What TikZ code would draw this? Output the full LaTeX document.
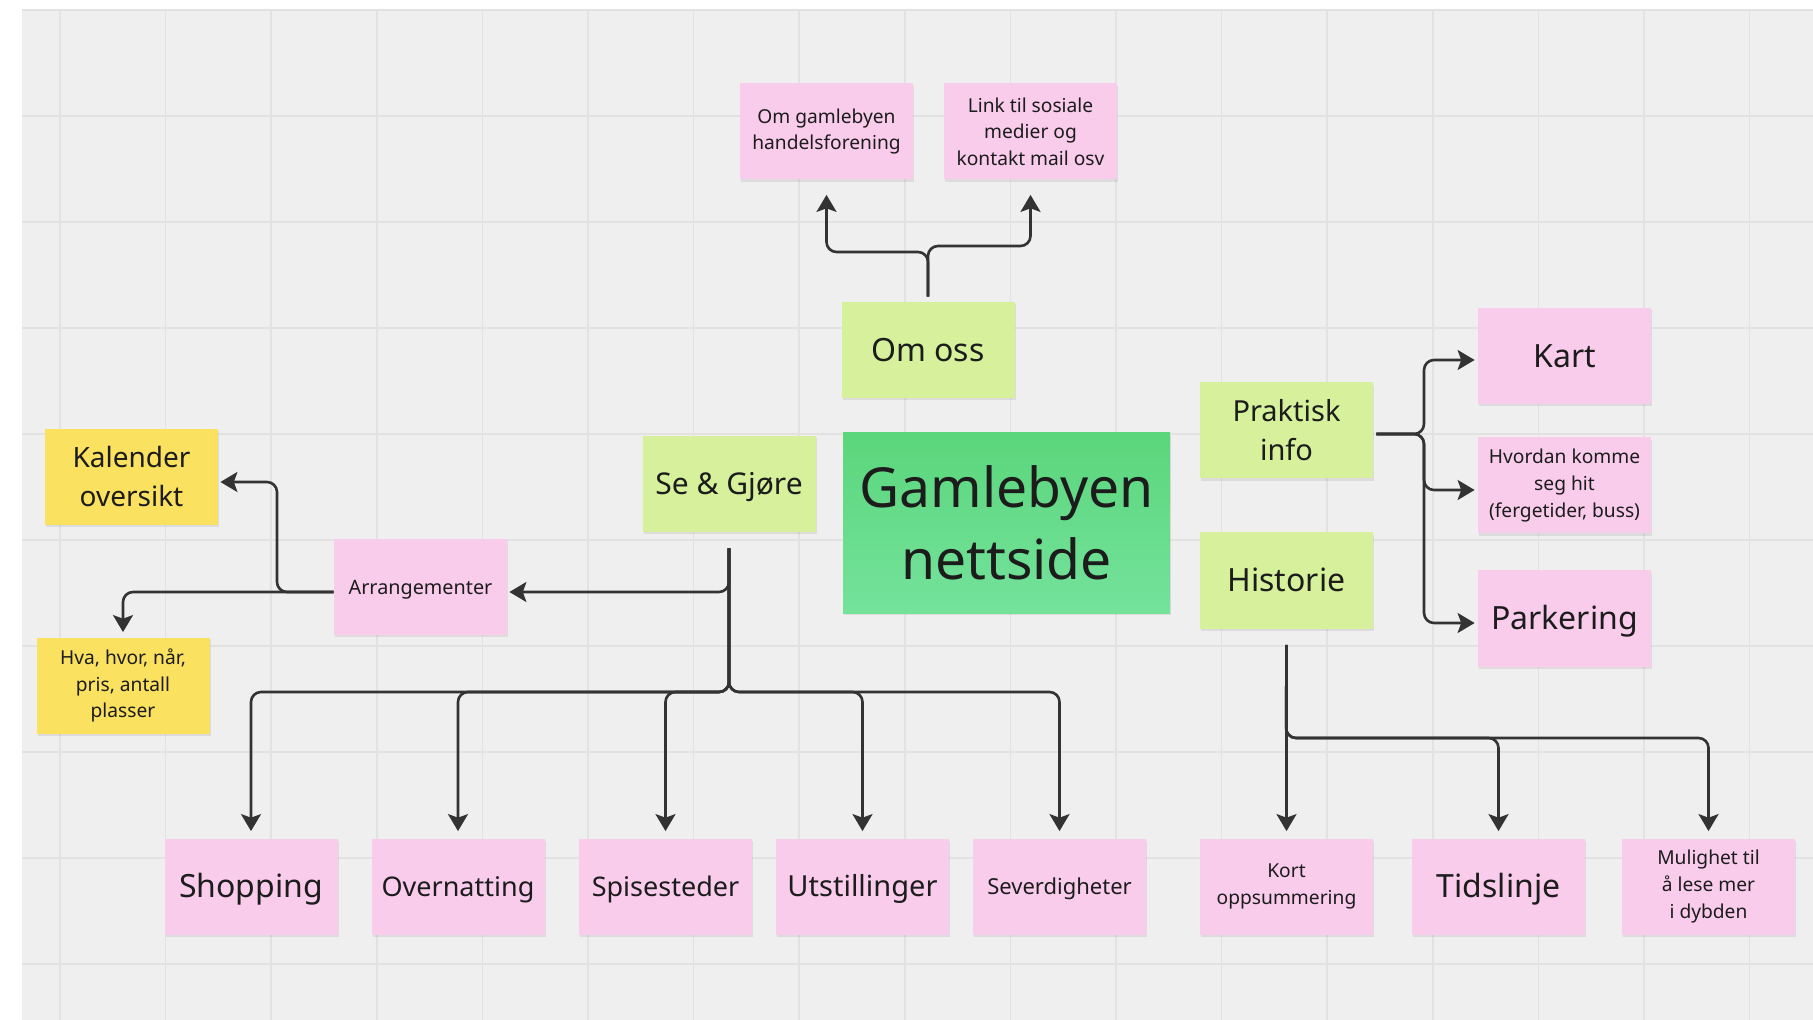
\documentclass[tikz,border=0pt]{standalone}
\usepackage{fontspec}
\setmainfont{Noto Sans}
\usetikzlibrary{arrows.meta,shadows}
\definecolor{bg}{HTML}{EFEFEF}
\definecolor{gridc}{HTML}{E2E2E2}
\definecolor{pinkn}{HTML}{F9CCEC}
\definecolor{limen}{HTML}{D6F09C}
\definecolor{yelln}{HTML}{FBE160}
\definecolor{greenA}{HTML}{5BD67C}
\definecolor{greenB}{HTML}{74E29B}
\definecolor{linec}{HTML}{333333}
\definecolor{textc}{HTML}{1C1C1C}
\begin{document}
\begin{tikzpicture}[x=0.5pt,y=-0.5pt,
  note/.style={minimum width=86.5pt, minimum height=48pt, inner sep=0pt, align=center, text=textc,
    general shadow={fill=black, opacity=0.08, shadow yshift=-1.2pt, shadow xshift=0.5pt}},
  pinknote/.style={note, fill=pinkn},
  limenote/.style={note, fill=limen},
  yellnote/.style={note, fill=yelln},
  sm/.style={font=\fontsize{9.6}{13.3}\selectfont},
  big/.style={font=\fontsize{16}{20}\selectfont, text height=11.4pt, text depth=0pt},
  oneline/.style={text height=#1, text depth=0pt},
  gridline/.style={draw=gridc, line width=0.8pt},
  arr/.style={draw=linec, line width=1.3pt, rounded corners=5pt, -{Stealth[length=8.5pt,width=10pt,inset=1.8pt]}}
]
\useasboundingbox (0,0) rectangle (1813,1020);
\fill[white] (0,0) rectangle (1813,1020);
\fill[bg] (22,9) rectangle (1813,1020);
\foreach \i in {0,...,16} { \draw[gridline] ({60+105.6*\i},9) -- ({60+105.6*\i},1020); }
\foreach \j in {0,...,9} { \draw[gridline] (22,{10+106*\j}) -- (1813,{10+106*\j}); }

% nodes
\node[pinknote, sm] (omg) at (826.5,131.5) {Om gamlebyen\\handelsforening};
\node[pinknote, sm] (link) at (1030.5,131.5) {Link til sosiale\\medier og\\kontakt mail osv};
\node[limenote, big] (omoss) at (928,350) {Om oss};
\node[note, top color=greenA, bottom color=greenB, minimum width=163.5pt, minimum height=90pt,
      font=\fontsize{27.6}{36.2}\selectfont] (main) at (1006.5,523) {Gamlebyen\\nettside};
\node[limenote, font=\fontsize{15}{20}\selectfont, oneline=10.7pt] (se) at (729,484) {Se \& Gjøre};
\node[yellnote, font=\fontsize{14}{19.5}\selectfont] (kal) at (131.5,477) {Kalender\\oversikt};
\node[pinknote, font=\fontsize{9.9}{13.3}\selectfont, oneline=7.1pt] (arr) at (420.5,587) {Arrangementer};
\node[yellnote, sm] (hva) at (123,685.5) {Hva, hvor, når,\\pris, antall\\plasser};

\node[pinknote, big] (shop) at (251,886.5) {Shopping};
\node[pinknote, font=\fontsize{13.5}{18}\selectfont, oneline=9.6pt] (over) at (458,886.5) {Overnatting};
\node[pinknote, font=\fontsize{13.5}{18}\selectfont, oneline=9.6pt] (spis) at (665.5,886.5) {Spisesteder};
\node[pinknote, font=\fontsize{14.5}{19}\selectfont, oneline=10.35pt] (utst) at (862.5,886.5) {Utstillinger};
\node[pinknote, font=\fontsize{11}{15}\selectfont, oneline=7.85pt] (sev) at (1059.5,886.5) {Severdigheter};
\node[pinknote, sm] (kort) at (1286.5,886.5) {Kort\\oppsummering};
\node[pinknote, big] (tid) at (1498.5,886.5) {Tidslinje};
\node[pinknote, sm] (mul) at (1708.5,886.5) {Mulighet til\\å lese mer\\i dybden};

\node[limenote, font=\fontsize{14.5}{19.5}\selectfont] (prak) at (1286.5,430.5) {Praktisk\\info};
\node[limenote, big] (hist) at (1286.5,580.5) {Historie};
\node[pinknote, big] (kart) at (1564.5,356) {Kart};
\node[pinknote, sm] (hvor) at (1564.5,485.5) {Hvordan komme\\seg hit\\(fergetider, buss)};
\node[pinknote, big] (park) at (1564.5,618.5) {Parkering};

% junction coordinates
\coordinate (jomL) at (928,252);
\coordinate (jomR) at (928,246);
\coordinate (jse1) at (729,592);
\coordinate (jse2) at (729,692);
\coordinate (jarr) at (277,592);
\coordinate (jkal) at (277,482);
\coordinate (jpr) at (1424,434);
\coordinate (jk) at (1424,360);
\coordinate (jh) at (1424,490);
\coordinate (jp) at (1424,623);
\coordinate (jhi) at (1286,738);

% Om oss
\draw[arr] ([yshift=2.5pt]omoss.north) -- (jomL) -| ([yshift=-7.5pt]omg.south);
\draw[arr] ([yshift=2.5pt]omoss.north) -- (jomR) -| ([yshift=-7.5pt]link.south);

% Se & Gjore
\draw[arr, shorten >=1pt] ([yshift=-8pt]se.south) -- (jse1) -- (arr.east |- jse1);
\foreach \t in {shop,over,spis,utst,sev}
  \draw[arr] ([yshift=-8pt]se.south) -- (jse2) -| ([yshift=3.5pt]\t.north);

% Arrangementer
\draw[arr, shorten >=1pt] (arr.west |- jarr) -- (jarr) -- (jkal) -- (kal.east |- jkal);
\draw[arr] (arr.west |- jarr) -| ([yshift=2.5pt]hva.north);

% Praktisk info
\draw[arr, shorten >=1.5pt] ([xshift=1.5pt]prak.east |- jpr) -- (jpr) -- (jk) -- (kart.west |- jk);
\draw[arr, shorten >=1.5pt] ([xshift=1.5pt]prak.east |- jpr) -- (jpr) -- (jh) -- (hvor.west |- jh);
\draw[arr, shorten >=1.5pt] ([xshift=1.5pt]prak.east |- jpr) -- (jpr) -- (jp) -- (park.west |- jp);

% Historie
\draw[arr] ([yshift=-8pt]hist.south) -- ([yshift=3.5pt]kort.north);
\draw[arr] ([yshift=-8pt]hist.south) -- (jhi) -| ([yshift=3.5pt]tid.north);
\draw[arr] ([yshift=-8pt]hist.south) -- (jhi) -| ([yshift=3.5pt]mul.north);
\end{tikzpicture}
\end{document}
